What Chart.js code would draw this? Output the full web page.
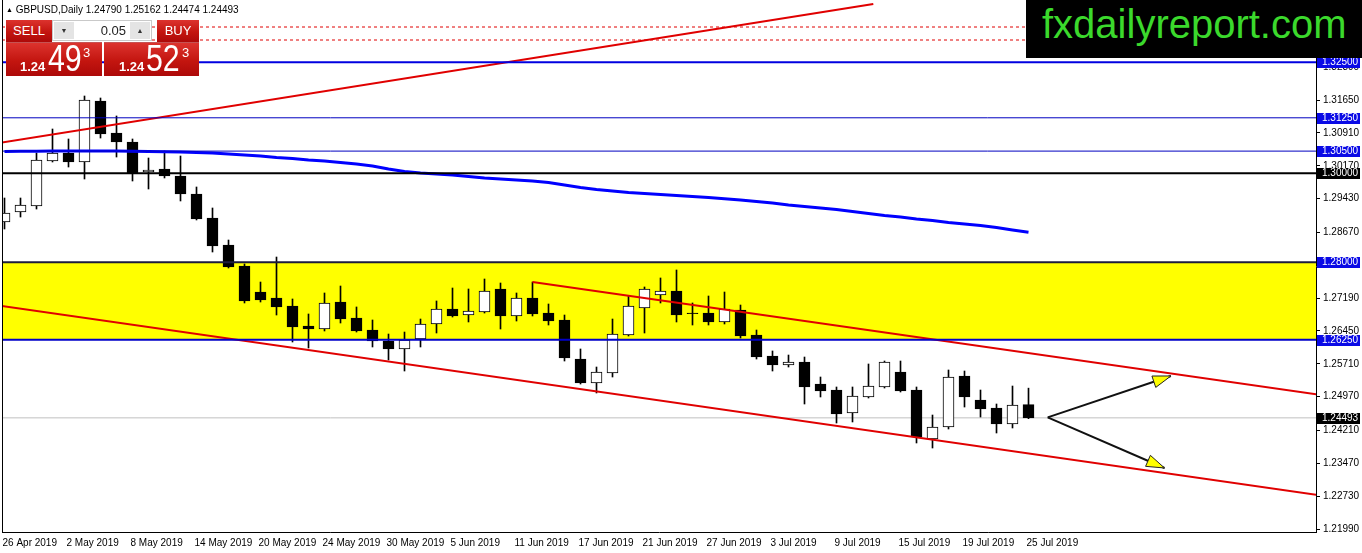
<!doctype html>
<html lang="en">
<head>
<meta charset="utf-8">
<title>GBPUSD,Daily</title>
<style>
  * { margin: 0; padding: 0; }
  body { background: #fff; font-family: 'Liberation Sans', Arial, sans-serif; }
  .wrap { position: relative; width: 1362px; height: 553px; overflow: hidden; }
  #chart { position: absolute; left: 0; top: 0; }
  .hdr { position: absolute; left: 6px; top: 4px; font-size: 10px; color: #000; white-space: pre; }
  .hdr .tri { font-size: 7px; vertical-align: 1px; }
  .red { position: absolute; background: linear-gradient(#dc332e, #c3150f 55%, #ad0909); color: #fff; }
  .btn { top: 20px; height: 22px; line-height: 22px; font-size: 13px; text-align: center; }
  .sell { left: 6px; width: 46px; }
  .buy { left: 157px; width: 42px; }
  .spin { position: absolute; left: 52px; top: 20px; width: 100px; height: 21px; background: #fff; border: 1px solid #c9c9c9; box-sizing: border-box; }
  .spin span { position: absolute; top: 1px; height: 17px; line-height: 17px; font-size: 13px; color: #222; }
  .spin .dn, .spin .up { width: 20px; background: #e4e4e4; font-size: 7px; text-align: center; color: #333; }
  .spin .dn { left: 1px; }
  .spin .up { right: 1px; }
  .spin .val { right: 25px; }
  .price { top: 42px; height: 34px; border-top: 1px solid rgba(255,255,255,0.3); box-sizing: border-box; }
  .p1 { left: 6px; width: 96px; }
  .p2 { left: 104px; width: 95px; }
  .price span { position: absolute; line-height: 1; white-space: nowrap; }
  .price .sm { font-size: 13px; font-weight: bold; top: 17px; }
  .price .bg { font-size: 37px; top: -3px; transform: scaleX(0.82); transform-origin: left top; }
  .price .sp { font-size: 13px; top: 3px; }
  .brand { position: absolute; left: 1026px; top: 0; width: 336px; height: 58px; background: #000; }
  .brand span { position: absolute; left: 16px; top: 4px; font-size: 40px; line-height: 40px; color: #3bd92c; }
</style>
</head>
<body>
<div class="wrap">
  <canvas id="chart" width="1362" height="553"></canvas>
  <div class="hdr"><span class="tri">▲</span> GBPUSD,Daily 1.24790 1.25162 1.24474 1.24493</div>
  <div class="red btn sell">SELL</div>
  <div class="spin"><span class="dn">▼</span><span class="val">0.05</span><span class="up">▲</span></div>
  <div class="red btn buy">BUY</div>
  <div class="red price p1"><span class="sm" style="left:14px">1.24</span><span class="bg" style="left:42px">49</span><span class="sp" style="left:77px">3</span></div>
  <div class="red price p2"><span class="sm" style="left:15px">1.24</span><span class="bg" style="left:42px">52</span><span class="sp" style="left:78px">3</span></div>
  <div class="brand"><span>fxdailyreport.com</span></div>
</div>
<script src="https://cdn.jsdelivr.net/npm/chart.js/dist/chart.umd.min.js"></script>
<script>
// daily candles, 26 Apr 2019 .. 25 Jul 2019 (bar index 0..64)
const opens  = [1.28904,1.29129,1.29264,1.30277,1.30458,1.30255,1.31629,1.30908,1.30705,1.30030,
                1.30097,1.29940,1.29534,1.28994,1.28386,1.27913,1.27327,1.27192,1.27012,1.26562,
                1.26494,1.27102,1.26742,1.26471,1.26224,1.26044,1.26269,1.26607,1.26944,1.26809,
                1.26877,1.27395,1.26787,1.27192,1.26854,1.26697,1.25818,1.25278,1.25503,1.26359,
                1.26967,1.27260,1.27350,1.26854,1.26854,1.26652,1.26922,1.26359,1.25886,1.25683,
                1.25751,1.25255,1.25120,1.24602,1.24963,1.25188,1.25526,1.25120,1.24017,1.24287,
                1.25436,1.24895,1.24715,1.24355,1.24790];
const highs  = [1.29444,1.29444,1.30458,1.30998,1.30773,1.31741,1.31696,1.31291,1.30773,1.30345,
                1.30503,1.30390,1.29692,1.29219,1.28498,1.27958,1.27552,1.28115,1.27170,1.26832,
                1.27305,1.27462,1.26990,1.26697,1.26381,1.26426,1.26719,1.27125,1.27417,1.27395,
                1.27620,1.27530,1.27305,1.27552,1.27057,1.26809,1.26044,1.25638,1.26719,1.27237,
                1.27440,1.27643,1.27823,1.27080,1.27237,1.27327,1.27034,1.26471,1.25999,1.25908,
                1.25863,1.25413,1.25188,1.25188,1.25706,1.25773,1.25773,1.25188,1.24557,1.25571,
                1.25548,1.25120,1.24805,1.25210,1.25162];
const lows   = [1.28746,1.29016,1.29196,1.30255,1.30142,1.29872,1.30795,1.30367,1.29827,1.29647,
                1.29895,1.29377,1.28949,1.28228,1.27868,1.27080,1.27102,1.26809,1.26201,1.26066,
                1.26449,1.26629,1.26426,1.26089,1.25796,1.25548,1.26089,1.26404,1.26764,1.26652,
                1.26854,1.26494,1.26674,1.26787,1.26584,1.25773,1.25255,1.25053,1.25413,1.26336,
                1.26404,1.27080,1.26652,1.26584,1.26584,1.26607,1.26291,1.25818,1.25548,1.25638,
                1.24805,1.24963,1.24377,1.24400,1.24940,1.25165,1.25075,1.23927,1.23814,1.24242,
                1.24737,1.24512,1.24152,1.24265,1.24474];
const closes = [1.29106,1.29286,1.30300,1.30458,1.30255,1.31651,1.30885,1.30705,1.30007,1.30075,
                1.29940,1.29534,1.28971,1.28363,1.27890,1.27125,1.27147,1.26990,1.26539,1.26494,
                1.27080,1.26719,1.26449,1.26224,1.26044,1.26246,1.26607,1.26944,1.26787,1.26899,
                1.27350,1.26787,1.27192,1.26832,1.26674,1.25841,1.25278,1.25526,1.26381,1.27012,
                1.27395,1.27350,1.26809,1.26840,1.26652,1.26944,1.26336,1.25863,1.25683,1.25751,
                1.25188,1.25098,1.24580,1.24985,1.25210,1.25751,1.25098,1.24062,1.24287,1.25413,
                1.24963,1.24692,1.24355,1.24782,1.24493];
// moving average (blue curve)
const maValues = [1.30492,1.30496,1.30499,1.30501,1.30503,1.30503,1.30502,1.30500,1.30497,1.30493,
                  1.30488,1.30480,1.30469,1.30458,1.30435,1.30412,1.30390,1.30356,1.30334,1.30300,
                  1.30277,1.30244,1.30210,1.30165,1.30097,1.30041,1.30007,1.29985,1.29962,1.29928,
                  1.29895,1.29872,1.29850,1.29827,1.29793,1.29737,1.29681,1.29636,1.29602,1.29568,
                  1.29545,1.29523,1.29500,1.29478,1.29455,1.29426,1.29399,1.29365,1.29332,1.29286,
                  1.29253,1.29219,1.29185,1.29140,1.29095,1.29050,1.29016,1.28971,1.28937,1.28892,
                  1.28859,1.28825,1.28780,1.28723,1.28672];

const xTickBars   = [0, 4, 8, 12, 16, 20, 24, 28, 32, 36, 40, 44, 48, 52, 56, 60, 64];
const xTickLabels = ['26 Apr 2019','2 May 2019','8 May 2019','14 May 2019','20 May 2019','24 May 2019',
                     '30 May 2019','5 Jun 2019','11 Jun 2019','17 Jun 2019','21 Jun 2019','27 Jun 2019',
                     '3 Jul 2019','9 Jul 2019','15 Jul 2019','19 Jul 2019','25 Jul 2019'];
const yTickValues = [1.2199,1.2273,1.2347,1.2421,1.2497,1.2571,1.2645,1.2719,1.2793,1.2867,
                     1.2943,1.3017,1.3091,1.3165,1.3239];

// horizontal levels and drawn objects
const levelPrices = [1.32500, 1.31250, 1.30500, 1.30000, 1.28000, 1.26250];
const lastPrice = 1.24493;
const zone = [1.28000, 1.26250];
const dashedPrices = [1.33295, 1.33002];
const trendUp = [[-0.2, 1.30694], [54.3, 1.33813]];
const channelTop = [[33, 1.27552], [82, 1.25025]];
const channelBottom = [[-0.2, 1.27012], [82, 1.22760]];
const arrowFrom = [65.2, 1.24505];
const arrowTips = [[72.9, 1.25436], [72.5, 1.23364]];

const X_MIN = -0.15625, X_MAX = 81.96875;
const Y_MIN = 1.219225, Y_MAX = 1.339031;

const levelStyle = [
  { color: '#0000e0', width: 2, box: '#0a0ae6' },
  { color: '#0000c0', width: 1, box: '#0a0ae6' },
  { color: '#0000c0', width: 1, box: '#0a0ae6' },
  { color: '#000000', width: 2, box: '#000000' },
  { color: '#1c1c3c', width: 2, box: '#0a0ae6' },
  { color: '#0000c8', width: 2, box: '#0a0ae6' }
];
const FONT = "'Liberation Sans', Arial, sans-serif";

const bars = opens.map((_, i) => i);
const bodyColors = bars.map(i => closes[i] >= opens[i] ? '#ffffff' : '#000000');

const segment = (pts, color, width, dash) => ({
  type: 'line',
  data: pts.map(p => ({ x: p[0], y: p[1] })),
  borderColor: color,
  borderWidth: width,
  borderDash: dash || [],
  pointRadius: 0,
  tension: 0,
  fill: false,
  order: 0
});

const datasets = [];
levelPrices.forEach((v, k) => {
  datasets.push(segment([[X_MIN, v], [X_MAX, v]], levelStyle[k].color, levelStyle[k].width));
});
dashedPrices.forEach(v => datasets.push(segment([[X_MIN, v], [X_MAX, v]], '#e00000', 1, [3, 3])));
datasets.push(Object.assign(segment([[X_MIN, lastPrice], [X_MAX, lastPrice]], '#c0c0c0', 1), { order: 3 }));
datasets.push({
  type: 'line',
  data: bars.map(i => ({ x: i, y: maValues[i] })),
  borderColor: '#0000ff',
  borderWidth: 3,
  pointRadius: 0,
  tension: 0,
  fill: false,
  order: 0
});
datasets.push(segment(trendUp, '#e00000', 2));
datasets.push(segment(channelTop, '#e00000', 2));
datasets.push(segment(channelBottom, '#e00000', 2));
arrowTips.forEach(t => datasets.push(segment([arrowFrom, t], '#111111', 2)));
datasets.push({
  type: 'bar',
  data: bars.map(i => ({ x: i, y: [opens[i], closes[i]] })),
  backgroundColor: bodyColors,
  borderColor: '#000000',
  borderWidth: 1,
  borderSkipped: false,
  barThickness: 11,
  grouped: false,
  clip: 0,
  order: 1
});
datasets.push({
  type: 'bar',
  data: bars.map(i => ({ x: i, y: [lows[i], highs[i]] })),
  backgroundColor: '#000000',
  borderWidth: 0,
  barThickness: 1,
  grouped: false,
  clip: 0,
  order: 2
});

// yellow zone behind the candles
const zonePlugin = {
  id: 'zone',
  beforeDatasetsDraw(chart) {
    const { ctx, chartArea: a, scales: { y } } = chart;
    const top = y.getPixelForValue(zone[0]);
    const bot = y.getPixelForValue(zone[1]);
    ctx.save();
    ctx.fillStyle = '#ffff00';
    ctx.fillRect(a.left, top, a.right - a.left, bot - top);
    ctx.restore();
  }
};

function arrowHead(ctx, x0, y0, x1, y1) {
  const ang = Math.atan2(y1 - y0, x1 - x0);
  const len = 18, half = 6;
  const bx = x1 - len * Math.cos(ang), by = y1 - len * Math.sin(ang);
  ctx.beginPath();
  ctx.moveTo(x1, y1);
  ctx.lineTo(bx + half * Math.sin(ang), by - half * Math.cos(ang));
  ctx.lineTo(bx - half * Math.sin(ang), by + half * Math.cos(ang));
  ctx.closePath();
  ctx.fillStyle = '#ffff00';
  ctx.fill();
  ctx.strokeStyle = '#222';
  ctx.lineWidth = 1;
  ctx.stroke();
}

const overlayPlugin = {
  id: 'overlay',
  afterDatasetsDraw(chart) {
    const { ctx, scales: { x, y } } = chart;
    ctx.save();
    const fx = x.getPixelForValue(arrowFrom[0]), fy = y.getPixelForValue(arrowFrom[1]);
    arrowTips.forEach(t => arrowHead(ctx, fx, fy, x.getPixelForValue(t[0]), y.getPixelForValue(t[1])));
    ctx.restore();
  },
  afterDraw(chart) {
    const { ctx, chartArea: a, scales: { y } } = chart;
    ctx.save();
    // left frame
    ctx.strokeStyle = '#000';
    ctx.lineWidth = 1;
    ctx.beginPath();
    ctx.moveTo(a.left + 0.5, a.top);
    ctx.lineTo(a.left + 0.5, a.bottom);
    ctx.stroke();
    // price boxes on the axis
    const boxes = levelPrices.map((v, k) => [v, levelStyle[k].box]).concat([[lastPrice, '#000000']]);
    ctx.font = '10px ' + FONT;
    ctx.textBaseline = 'middle';
    ctx.textAlign = 'left';
    boxes.forEach(([v, bg]) => {
      const py = Math.round(y.getPixelForValue(v));
      ctx.fillStyle = bg;
      ctx.fillRect(a.right + 1, py - 5, 43, 11);
      ctx.fillStyle = '#fff';
      ctx.fillText(v.toFixed(5), a.right + 6, py + 0.5);
    });
    ctx.restore();
  }
};

new Chart(document.getElementById('chart'), {
  type: 'bar',
  data: { datasets },
  options: {
    responsive: false,
    animation: false,
    devicePixelRatio: 1,
    events: [],
    layout: { padding: { left: 2, top: 0, right: 0, bottom: 0 } },
    plugins: { legend: { display: false }, tooltip: { enabled: false } },
    scales: {
      x: {
        type: 'linear',
        min: X_MIN,
        max: X_MAX,
        offset: false,
        grid: { display: false },
        border: { display: true, color: '#000' },
        ticks: {
          autoSkip: false,
          maxRotation: 0,
          align: 'start',
          labelOffset: -2,
          padding: -3,
          color: '#000',
          font: { family: FONT, size: 10 },
          callback: (v, i) => xTickLabels[i]
        },
        afterBuildTicks: s => { s.ticks = xTickBars.map(v => ({ value: v })); },
        afterFit: s => { s.height = 21; s.paddingLeft = 0; s.paddingRight = 0; }
      },
      y: {
        type: 'linear',
        position: 'right',
        min: Y_MIN,
        max: Y_MAX,
        beginAtZero: false,
        grid: { drawOnChartArea: false, drawTicks: true, tickLength: 4, color: '#000' },
        border: { display: true, color: '#000' },
        ticks: {
          padding: 3,
          color: '#000',
          font: { family: FONT, size: 10 },
          callback: v => v.toFixed(5)
        },
        afterBuildTicks: s => { s.ticks = yTickValues.map(v => ({ value: v })); },
        afterFit: s => { s.width = 46; s.paddingTop = 0; s.paddingBottom = 0; }
      }
    }
  },
  plugins: [zonePlugin, overlayPlugin]
});
</script>
</body>
</html>
